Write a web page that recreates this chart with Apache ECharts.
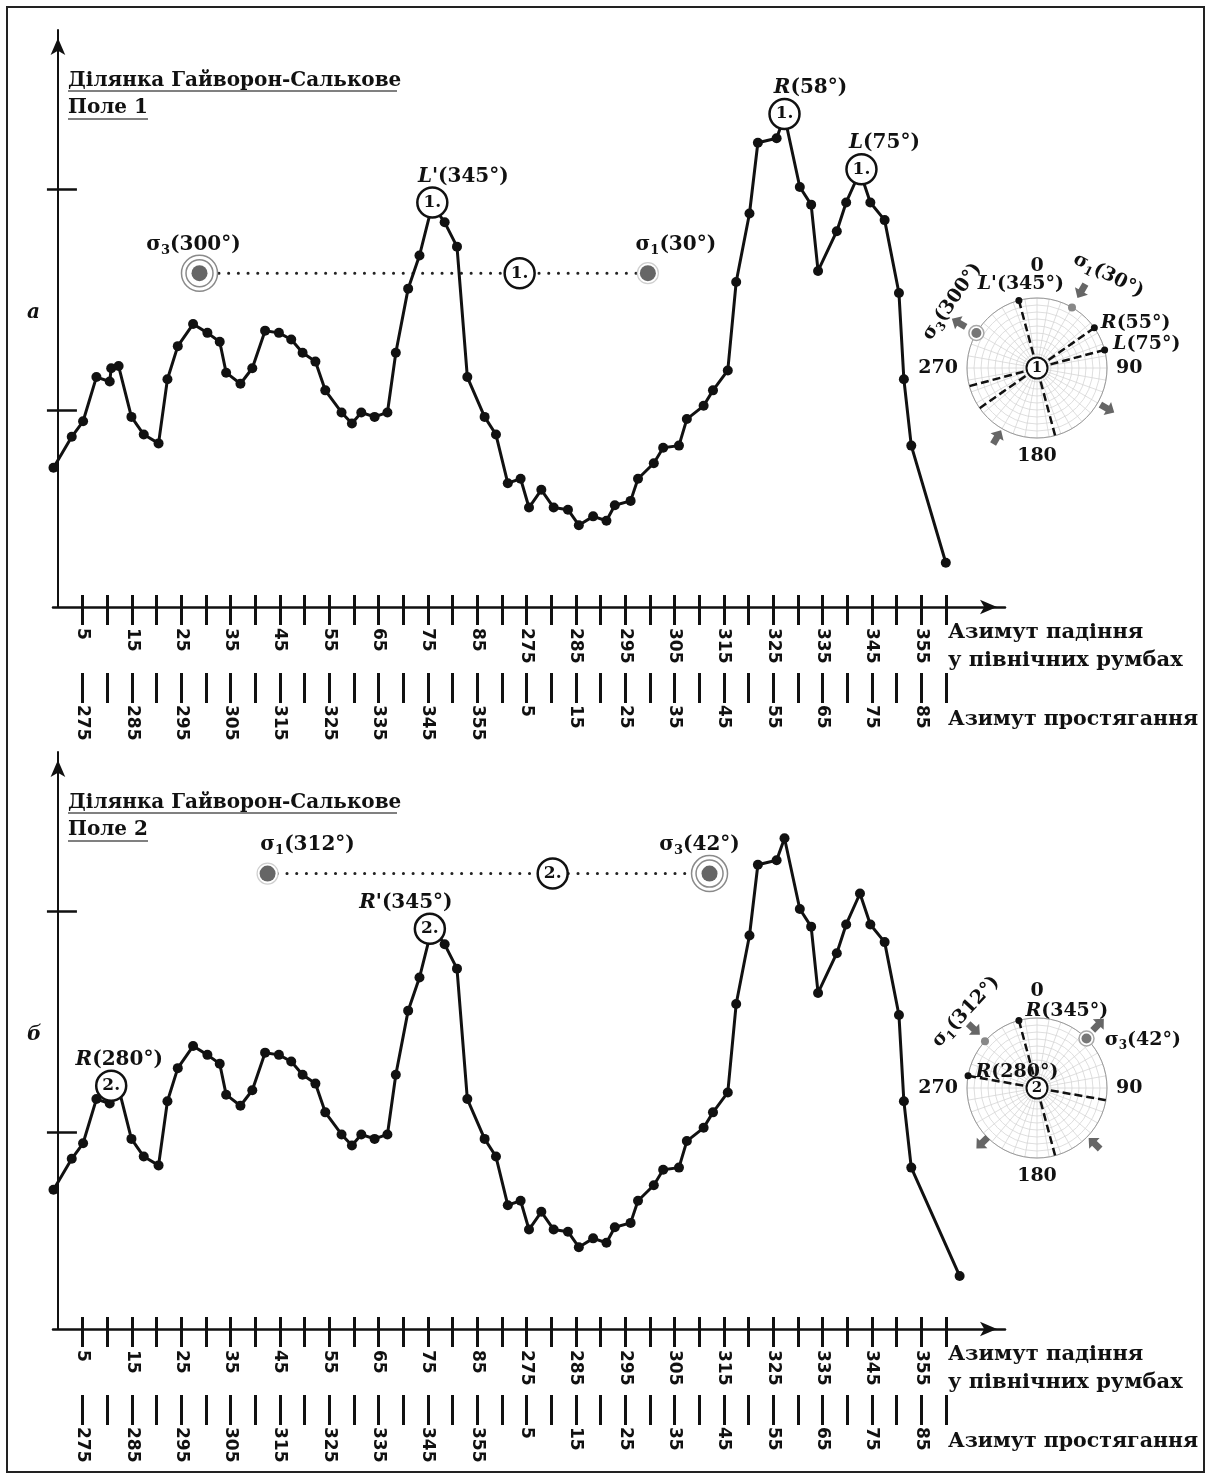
<!DOCTYPE html>
<html><head><meta charset="utf-8">
<script src="https://cdn.jsdelivr.net/npm/echarts@6/dist/echarts.min.js"></script>
<style>html,body{margin:0;padding:0;background:#fff}#c{width:1210px;height:1479px}</style>
</head><body><div id="c"></div>
<script>
const SERIF = '"DejaVu Serif", "Liberation Serif", serif';
const INK = '#111';

// ---- axis ticks / labels (position units: 5 per tick) ----
const tickPos = [5,10,15,20,25,30,35,40,45,50,55,60,65,70,75,80,85,90,95,100,105,110,115,120,125,130,135,140,145,150,155,160,165,170,175,180];
const labelPos = [5,15,25,35,45,55,65,75,85,95,105,115,125,135,145,155,165,175];
const dipLabels = ['5','15','25','35','45','55','65','75','85','275','285','295','305','315','325','335','345','355'];
const strikeLabels = ['275','285','295','305','315','325','335','345','355','5','15','25','35','45','55','65','75','85'];
const yTickPos = [10, 20];

// ---- curves ----
const field1Pos = [-0.9,2.8,5.1,7.8,10.5,10.8,12.3,14.9,17.4,20.4,22.2,24.3,27.4,30.3,32.8,34.1,37.0,39.4,42.0,44.8,47.3,49.6,52.2,54.2,57.5,59.6,61.5,64.2,66.8,68.5,71.0,73.3,75.9,78.4,80.9,83.0,86.5,88.8,91.2,93.8,95.5,98.0,100.5,103.4,105.6,108.5,111.2,112.9,116.1,117.6,120.8,122.7,125.9,127.5,130.9,132.8,135.8,137.5,140.2,141.9,145.7,147.3,150.4,152.7,154.1,157.9,159.8,162.6,164.7,167.6,170.5,171.5,173.0,180.0];
const field1Val = [7.4,8.8,9.5,11.5,11.3,11.9,12.0,9.7,8.9,8.5,11.4,12.9,13.9,13.5,13.1,11.7,11.2,11.9,13.6,13.5,13.2,12.6,12.2,10.9,9.9,9.4,9.9,9.7,9.9,12.6,15.5,17.0,19.3,18.5,17.4,11.5,9.7,8.9,6.7,6.9,5.6,6.4,5.6,5.5,4.8,5.2,5.0,5.7,5.9,6.9,7.6,8.3,8.4,9.6,10.2,10.9,11.8,15.8,18.9,22.1,22.3,23.3,20.1,19.3,16.3,18.1,19.4,20.8,19.4,18.6,15.3,11.4,8.4,3.1];
const field2Pos = [-0.9,2.8,5.1,7.8,10.5,10.8,12.3,14.9,17.4,20.4,22.2,24.3,27.4,30.3,32.8,34.1,37.0,39.4,42.0,44.8,47.3,49.6,52.2,54.2,57.5,59.6,61.5,64.2,66.8,68.5,71.0,73.3,75.9,78.4,80.9,83.0,86.5,88.8,91.2,93.8,95.5,98.0,100.5,103.4,105.6,108.5,111.2,112.9,116.1,117.6,120.8,122.7,125.9,127.5,130.9,132.8,135.8,137.5,140.2,141.9,145.7,147.3,150.4,152.7,154.1,157.9,159.8,162.6,164.7,167.6,170.5,171.5,173.0,182.8];
const field2Val = [7.4,8.8,9.5,11.5,11.3,11.9,12.0,9.7,8.9,8.5,11.4,12.9,13.9,13.5,13.1,11.7,11.2,11.9,13.6,13.5,13.2,12.6,12.2,10.9,9.9,9.4,9.9,9.7,9.9,12.6,15.5,17.0,19.3,18.5,17.4,11.5,9.7,8.9,6.7,6.9,5.6,6.4,5.6,5.5,4.8,5.2,5.0,5.7,5.9,6.9,7.6,8.3,8.4,9.6,10.2,10.9,11.8,15.8,18.9,22.1,22.3,23.3,20.1,19.3,16.3,18.1,19.4,20.8,19.4,18.6,15.3,11.4,8.4,3.5];

// ---- annotations ----
const field1Peaks = [
  {pos:75.9, val:19.4, mark:'1.', text:"{i|L'}{n|(345°)}", dx:31},
  {pos:147.3, val:23.4, mark:'1.', text:'{i|R}{n|(58°)}', dx:26},
  {pos:162.9, val:20.9, mark:'1.', text:'{i|L}{n|(75°)}', dx:23}
];
const field2Peaks = [
  {pos:10.8, val:12.1, mark:'2.', text:'{i|R}{n|(280°)}', dx:8},
  {pos:75.4, val:19.2, mark:'2.', text:"{i|R'}{n|(345°)}", dx:-24}
];
const field1Stress = [
  {pos:28.7, val:16.2, kind:3, text:'{n|σ}{sub|3}{n|(300°)}', dx:-6},
  {pos:119.6, val:16.2, kind:1, text:'{n|σ}{sub|1}{n|(30°)}', dx:28}
];
const field2Stress = [
  {pos:42.5, val:21.7, kind:1, text:'{n|σ}{sub|1}{n|(312°)}', dx:40},
  {pos:132.1, val:21.7, kind:3, text:'{n|σ}{sub|3}{n|(42°)}', dx:-10}
];
const field1Link = {pos:93.6, val:16.2, mark:'1.'};
const field2Link = {pos:100.3, val:21.7, mark:'2.'};

// ---- rose diagrams ----
const rose1Lines = [
  {deg:345, text:"{i|L'}{n|(345°)}", place:'top', dist:3, off:[2,0]},
  {deg:55, text:'{i|R}{n|(55°)}', place:'right', dist:3, off:[0,-5]},
  {deg:75, text:'{i|L}{n|(75°)}', place:'right', dist:5, off:[0,-6]}
];
const rose2Lines = [
  {deg:345, text:'{i|R}{n|(345°)}', place:'right', dist:3, off:[0,-9]},
  {deg:280, text:'{i|R}{n|(280°)}', place:'right', dist:4, off:[0,-4]}
];
const rose1Stress = [{deg:300, kind:3}, {deg:30, kind:1}];
const rose2Stress = [{deg:312, kind:1}, {deg:45, kind:3}];
const rose1Arrows = [{deg:30,r:1.27,inward:true},{deg:210,r:1.14,inward:true},{deg:300,r:1.29,inward:false},{deg:120,r:1.16,inward:false}];
const rose2Arrows = [{deg:313,r:1.23,inward:true},{deg:134,r:1.14,inward:true},{deg:44,r:1.26,inward:false},{deg:225,r:1.11,inward:false}];
const rose1Tags = [
  {deg:308, r:1.54, rot:55, text:'{n|σ}{sub|3}{n|(300°)}'},
  {deg:37.7, r:1.67, rot:-27, text:'{n|σ}{sub|1}{n|(30°)}'}
];
const rose2Tags = [
  {deg:317, r:1.49, rot:47, text:'{n|σ}{sub|1}{n|(312°)}'},
  {deg:65.6, r:1.66, rot:0, text:'{n|σ}{sub|3}{n|(42°)}'}
];
const roseCentreMarks = ['1', '2'];
const roseZeroLift = [13, 8];

// ---- texts ----
const panelTitles = [['Ділянка Гайворон-Салькове','Поле 1'], ['Ділянка Гайворон-Салькове','Поле 2']];
const panelLetters = ['а', 'б'];
const dipAxisName = ['Азимут падіння', 'у північних румбах'];
const strikeAxisName = 'Азимут простягання';

const ARROW = 'path://M0,0 L10,8 L4.5,8 L4.5,16 L-4.5,16 L-4.5,8 L-10,8 Z';
const CLEAR = {color:'rgba(0,0,0,0)', opacity:1};

function rich(fs) {
  return {
    i: {fontFamily:SERIF, fontSize:fs, fontWeight:'bold', fontStyle:'italic', color:INK},
    n: {fontFamily:SERIF, fontSize:fs, fontWeight:'bold', color:INK},
    sub: {fontFamily:SERIF, fontSize:Math.round(fs*0.65), fontWeight:'bold', color:INK, padding:[12,0,0,0]}
  };
}
function solid(st) { return Object.assign({opacity:1}, st); }

const panelTops = [30, 752];
const grids = [], xAxes = [], yAxes = [], series = [];
const tickLabelStyle = {fontFamily:'"DejaVu Sans", sans-serif', fontSize:17, fontWeight:'bold', color:INK};

panelTops.forEach((top, g) => {
  grids.push({left:53, top:top, width:952, height:577, outerBoundsMode:'none', containLabel:false});
  const base = {gridIndex:g, type:'value', min:-1, max:192, position:'bottom', splitLine:{show:false}};
  xAxes.push(Object.assign({}, base, {
    axisLine:{show:true, lineStyle:{color:INK, width:2.5}, symbol:['none','arrow'], symbolSize:[11,17], symbolOffset:[0,-8]},
    axisTick:{show:true, inside:true, length:12, customValues:tickPos, lineStyle:{color:INK, width:3}},
    axisLabel:{show:false}
  }));
  xAxes.push(Object.assign({}, base, {
    axisLine:{show:false},
    axisTick:{show:true, inside:false, length:18, customValues:tickPos, lineStyle:{color:INK, width:3}},
    axisLabel:Object.assign({show:true, customValues:labelPos, rotate:-90, margin:21,
      formatter:v => dipLabels[labelPos.indexOf(Math.round(v))] || ''}, tickLabelStyle)
  }));
  xAxes.push(Object.assign({}, base, {
    offset:66,
    axisLine:{show:false},
    axisTick:{show:true, inside:false, length:30, customValues:tickPos, lineStyle:{color:INK, width:3}},
    axisLabel:Object.assign({show:true, customValues:labelPos, rotate:-90, margin:32,
      formatter:v => strikeLabels[labelPos.indexOf(Math.round(v))] || ''}, tickLabelStyle)
  }));
  const ybase = {gridIndex:g, type:'value', min:1.1, max:27.2, position:'left', splitLine:{show:false}, axisLabel:{show:false}};
  yAxes.push(Object.assign({}, ybase, {
    axisLine:{show:true, lineStyle:{color:INK, width:2}, symbol:['none','arrow'], symbolSize:[11,17], symbolOffset:[0,-8]},
    axisTick:{show:true, inside:true, length:19, customValues:yTickPos, lineStyle:{color:INK, width:2.5}}
  }));
  yAxes.push(Object.assign({}, ybase, {
    axisLine:{show:false},
    axisTick:{show:true, inside:false, length:11, customValues:yTickPos, lineStyle:{color:INK, width:2.5}}
  }));
});

function addPanel(g, pos, val, peaks, stress, link) {
  const ax = {xAxisIndex:g*3, yAxisIndex:g*2};
  series.push(Object.assign({type:'line', data:pos.map((p,i)=>[p,val[i]]), symbol:'circle', symbolSize:10,
    itemStyle:solid({color:INK}), lineStyle:{color:INK, width:3}, z:3, clip:false, silent:true}, ax));
  series.push(Object.assign({type:'line', data:stress.map(d=>[d.pos,d.val]), symbol:'none',
    lineStyle:{color:'#222', width:3, type:[0.1,9.6], cap:'round'}, z:2, silent:true}, ax));
  stress.forEach(d => {
    const layers = d.kind === 3
      ? [{s:36, st:{color:'#fff', borderColor:'#8a8a8a', borderWidth:1.5}},
         {s:27, st:{color:'#fff', borderColor:'#8a8a8a', borderWidth:1.5}},
         {s:16, st:{color:'#666'}}]
      : [{s:21, st:{color:'#fff', borderColor:'#cfcfcf', borderWidth:1.2}},
         {s:16, st:{color:'#666'}}];
    layers.forEach((l, k) => series.push(Object.assign({type:'scatter', data:[[d.pos,d.val]], symbol:'circle',
      symbolSize:l.s, itemStyle:solid(l.st), z:4+k*0.1, silent:true}, ax)));
    series.push(Object.assign({type:'scatter', data:[[d.pos,d.val]], symbolSize:30, itemStyle:CLEAR,
      label:{show:true, position:'top', distance:1, offset:[d.dx,0], formatter:d.text, rich:rich(20)}, z:6, silent:true}, ax));
  });
  const marks = peaks.concat([link]);
  series.push(Object.assign({type:'scatter', data:marks.map(d=>({value:[d.pos,d.val], label:{formatter:d.mark}})),
    symbol:'circle', symbolSize:30, itemStyle:solid({color:'#fff', borderColor:INK, borderWidth:2.5}),
    label:{show:true, position:'inside', fontFamily:SERIF, fontSize:17, fontWeight:'bold', color:INK}, z:5, silent:true}, ax));
  series.push(Object.assign({type:'scatter', data:peaks.map(d=>({value:[d.pos,d.val], label:{formatter:d.text, offset:[d.dx,0]}})),
    symbolSize:30, itemStyle:CLEAR,
    label:{show:true, position:'top', distance:1, rich:rich(20)}, z:6, silent:true}, ax));
}
addPanel(0, field1Pos, field1Val, field1Peaks, field1Stress, field1Link);
addPanel(1, field2Pos, field2Val, field2Peaks, field2Stress, field2Link);

// ---- polar roses ----
const polars = [{center:[1037,368], radius:70}, {center:[1037,1088], radius:70}];
const angleAxes = [], radiusAxes = [];
polars.forEach((p, i) => {
  angleAxes.push({polarIndex:i, type:'value', min:0, max:360, startAngle:90, clockwise:true, interval:10,
    axisLine:{show:true, lineStyle:{color:'#9a9a9a', width:1}}, axisTick:{show:false},
    splitLine:{show:true, lineStyle:{color:'#d6d6d6', width:0.8}},
    axisLabel:{show:true, customValues:[0,90,180,270], margin:9,
      formatter:v => (v % 90 === 0 && v < 360) ? (v === 0 ? '{z|0}' : '{n|' + v + '}') : '',
      rich:{z:{fontFamily:SERIF, fontSize:19, fontWeight:'bold', color:INK, padding:[0,0,roseZeroLift[i],0]},
            n:{fontFamily:SERIF, fontSize:19, fontWeight:'bold', color:INK}}}});
  radiusAxes.push({polarIndex:i, type:'value', min:0, max:1, interval:0.1,
    axisLine:{show:false}, axisTick:{show:false}, axisLabel:{show:false},
    splitLine:{show:true, lineStyle:{color:'#d6d6d6', width:0.8}}});
});

function addRose(p, lines, stress, arrows, tags) {
  const base = {coordinateSystem:'polar', polarIndex:p, silent:true, clip:false};
  lines.forEach(l => {
    series.push(Object.assign({type:'line', data:[
      {value:[1,l.deg], symbol:'circle', symbolSize:7,
       label:{show:true, position:l.place, distance:l.dist, offset:l.off, formatter:l.text, rich:rich(19)}},
      {value:[1,(l.deg+180)%360], symbol:'none'}],
      lineStyle:{color:INK, width:2.5, type:[8,4]}, itemStyle:solid({color:INK}), z:3}, base));
  });
  stress.forEach(s => {
    const layers = s.kind === 3
      ? [{sz:15, st:{color:'#fff', borderColor:'#a8a8a8', borderWidth:1.5}}, {sz:10, st:{color:'#777'}}]
      : [{sz:8, st:{color:'#888'}}];
    layers.forEach((l,k) => series.push(Object.assign({type:'scatter', data:[[1,s.deg]], symbol:'circle',
      symbolSize:l.sz, itemStyle:solid(l.st), z:4+k*0.1}, base)));
  });
  series.push(Object.assign({type:'scatter', symbol:ARROW, symbolSize:[15,16], itemStyle:solid({color:'#666'}),
    data:arrows.map(a => ({value:[a.r, a.deg], symbolRotate: a.inward ? -(a.deg+180) : -a.deg})), z:4}, base));
  series.push(Object.assign({type:'scatter', symbolSize:2, itemStyle:CLEAR,
    data:tags.map(t => ({value:[t.r, t.deg], label:{show:true, position:'inside', rotate:t.rot, formatter:t.text, rich:rich(19)}})), z:6}, base));
  series.push(Object.assign({type:'scatter', data:[[0,0]], symbol:'circle', symbolSize:21,
    itemStyle:solid({color:'#fff', borderColor:INK, borderWidth:2}),
    label:{show:true, position:'inside', formatter:roseCentreMarks[p], fontFamily:SERIF, fontSize:15, fontWeight:'bold', color:INK}, z:7}, base));
}
addRose(0, rose1Lines, rose1Stress, rose1Arrows, rose1Tags);
addRose(1, rose2Lines, rose2Stress, rose2Arrows, rose2Tags);

// ---- decorations ----
const graphics = [{type:'rect', shape:{x:7, y:7, width:1197, height:1465}, style:{fill:'none', stroke:'#222', lineWidth:2}, silent:true, z:100}];
function txt(x, y, text, font) {
  return {type:'text', x:x, y:y, silent:true, z:100,
    style:{text:text, font:font, fill:INK, align:'left', verticalAlign:'middle', textAlign:'left', textVerticalAlign:'middle'}};
}
[0, 722].forEach((off, g) => {
  graphics.push(txt(68, 81+off, panelTitles[g][0], 'bold 20px ' + SERIF));
  graphics.push(txt(68, 108+off, panelTitles[g][1], 'bold 20px ' + SERIF));
  graphics.push({type:'line', shape:{x1:68, y1:91+off, x2:397, y2:91+off}, style:{stroke:'#808080', lineWidth:2}, silent:true, z:100});
  graphics.push({type:'line', shape:{x1:68, y1:119+off, x2:148, y2:119+off}, style:{stroke:'#808080', lineWidth:2}, silent:true, z:100});
  graphics.push(txt(27, 313+off, panelLetters[g], 'italic bold 20px ' + SERIF));
  graphics.push(txt(948, 633+off, dipAxisName[0], 'bold 21px ' + SERIF));
  graphics.push(txt(948, 661+off, dipAxisName[1], 'bold 21px ' + SERIF));
  graphics.push(txt(948, 720+off, strikeAxisName, 'bold 20.5px ' + SERIF));
});

const chart = echarts.init(document.getElementById('c'), null, {renderer:'canvas'});
chart.setOption({
  animation:false,
  backgroundColor:'#fff',
  textStyle:{fontFamily:SERIF},
  grid:grids, xAxis:xAxes, yAxis:yAxes,
  polar:polars, angleAxis:angleAxes, radiusAxis:radiusAxes,
  series:series,
  graphic:graphics
});
</script></body></html>
